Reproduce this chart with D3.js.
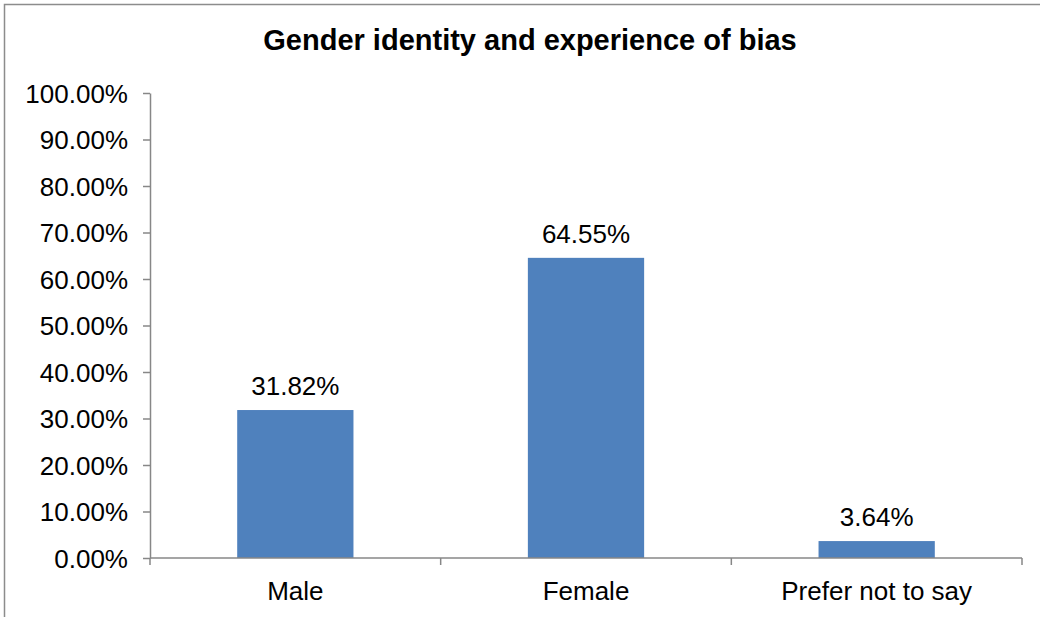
<!DOCTYPE html>
<html><head><meta charset="utf-8">
<script src="https://cdn.jsdelivr.net/npm/d3@7"></script>
<style>body{margin:0;background:#fff}svg{display:block;font-family:Arial,"Liberation Sans",sans-serif}</style>
</head><body><svg id="c" width="1040" height="617"></svg>
<script>
const title = "Gender identity and experience of bias";
const categories = ["Male", "Female", "Prefer not to say"];
const values = [31.82, 64.55, 3.64];
const valueLabels = ["31.82%", "64.55%", "3.64%"];
const yTicks = [0, 10, 20, 30, 40, 50, 60, 70, 80, 90, 100];

const svg = d3.select("#c");
const L = 150, R = 1022, T = 93, B = 558;
const axisColor = "#878787";

svg.append("rect").attr("x", 4.5).attr("y", 4.5).attr("width", 1200).attr("height", 800)
  .attr("fill", "none").attr("stroke", "#8c8c8c").attr("stroke-width", 1.5);

svg.append("text").attr("x", 530).attr("y", 50).attr("text-anchor", "middle")
  .attr("font-weight", "bold").attr("font-size", 29).attr("fill", "#000").text(title);

const x = d3.scaleBand().domain(categories).range([L, R]).paddingInner(0.6).paddingOuter(0.3);
const y = d3.scaleLinear().domain([0, 100]).range([B, T]);

// y axis
const ya = svg.append("g").attr("transform", `translate(${L},0)`)
  .call(d3.axisLeft(y).tickValues(yTicks).tickSize(7).tickSizeOuter(0).tickPadding(15)
    .tickFormat(d => d.toFixed(2) + "%"));
ya.select(".domain").attr("stroke", axisColor).attr("stroke-width", 1.5);
ya.selectAll(".tick line").attr("stroke", axisColor).attr("stroke-width", 1.5);
ya.selectAll(".tick text").attr("font-size", 26).attr("fill", "#000").attr("font-family", "Arial, 'Liberation Sans', sans-serif").attr("dy", "0.35em");

// bars
svg.selectAll("rect.bar").data(values).join("rect").attr("class", "bar")
  .attr("x", (d, i) => x(categories[i])).attr("width", x.bandwidth())
  .attr("y", d => y(d)).attr("height", d => B - y(d)).attr("fill", "#4F81BD");

svg.selectAll("text.val").data(values).join("text").attr("class", "val")
  .attr("x", (d, i) => x(categories[i]) + x.bandwidth() / 2)
  .attr("y", d => y(d) - 15).attr("text-anchor", "middle")
  .attr("font-size", 26).attr("fill", "#000").text((d, i) => valueLabels[i]);

// x axis
const step = (R - L) / categories.length;
const boundaries = d3.range(categories.length + 1).map(i => L + i * step);
svg.append("line").attr("x1", L).attr("x2", R).attr("y1", B).attr("y2", B)
  .attr("stroke", axisColor).attr("stroke-width", 1.5);
svg.selectAll("line.xt").data(boundaries).join("line").attr("class", "xt")
  .attr("x1", d => d).attr("x2", d => d).attr("y1", B).attr("y2", B + 7)
  .attr("stroke", axisColor).attr("stroke-width", 1.5);
svg.selectAll("text.xl").data(categories).join("text").attr("class", "xl")
  .attr("x", d => x(d) + x.bandwidth() / 2).attr("y", 600).attr("text-anchor", "middle")
  .attr("font-size", 26).attr("fill", "#000").text(d => d);
</script></body></html>
